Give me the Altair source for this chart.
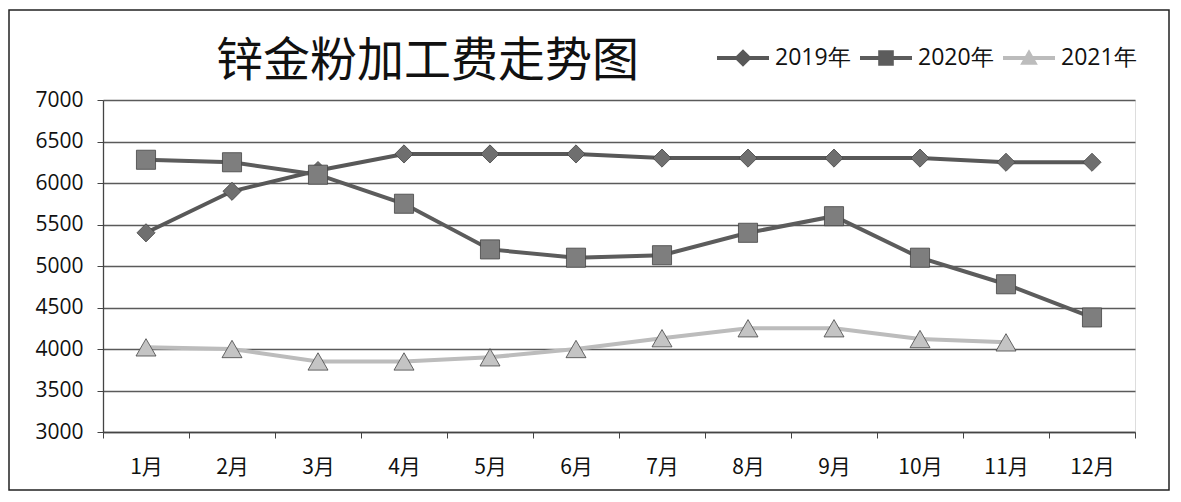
import altair as alt
import pandas as pd

months = ["1月", "2月", "3月", "4月", "5月", "6月", "7月", "8月", "9月", "10月", "11月", "12月"]
series_names = ["2019年", "2020年", "2021年"]
v2019 = [5400, 5900, 6150, 6350, 6350, 6350, 6300, 6300, 6300, 6300, 6250, 6250]
v2020 = [6280, 6250, 6100, 5750, 5200, 5100, 5130, 5400, 5600, 5100, 4780, 4380]
v2021 = [4020, 4000, 3850, 3850, 3900, 4000, 4130, 4250, 4250, 4120, 4080]
y_ticks = [3000, 3500, 4000, 4500, 5000, 5500, 6000, 6500, 7000]
title_text = ["锌金粉加工费走势图"]

line_colors = ["#585858", "#5c5c5c", "#bcbcbc"]
marker_fill = ["#6f6f6f", "#7e7e7e", "#c4c4c4"]
shapes = ["diamond", "square", "triangle-up"]
marker_sizes = [330, 400, 380]
legend_paths = [
    "M-1,-0.08H1V0.08H-1Z M0,-0.34L0.34,0L0,0.34L-0.34,0Z",
    "M-1,-0.08H1V0.08H-1Z M-0.3,-0.3H0.3V0.3H-0.3Z",
    "M-1,-0.08H1V0.08H-1Z M0,-0.34L0.34,0.26H-0.34Z",
]

rows = []
for name, vals in zip(series_names, [v2019, v2020, v2021]):
    for m, v in zip(months, vals):
        rows.append({"month": m, "value": v, "series": name})
df = pd.DataFrame(rows)

W, H = 1032, 332

x_enc = alt.X("month:N", sort=months, bandPosition=0.5,
              scale=alt.Scale(type="band", paddingInner=0, paddingOuter=0, domain=months),
              axis=alt.Axis(title=None, tickBand="extent", labelAngle=0, labelFont="Noto Sans CJK SC",
                            labelFontSize=21, labelColor="#111", labelPadding=18, tickSize=6,
                            tickColor="#444", domainColor="#444", domainWidth=1.3, grid=False))
y_enc = alt.Y("value:Q", scale=alt.Scale(domain=[3000, 7000], nice=False, zero=False),
              axis=alt.Axis(title=None, values=y_ticks, format="d", labelFont="Open Sans",
                            labelFontSize=21, labelColor="#111", labelPadding=14, tickSize=6,
                            tickColor="#444", domainColor="#444", domainWidth=1.3,
                            gridColor="#5a5a5a", gridWidth=1.3))
color_scale = alt.Scale(domain=series_names, range=line_colors)
fill_scale = alt.Scale(domain=series_names, range=marker_fill)

lines = alt.Chart(df).mark_line(strokeWidth=4).encode(
    x=x_enc, y=y_enc,
    color=alt.Color("series:N", scale=color_scale, legend=None),
)
points = alt.Chart(df).mark_point(filled=True, opacity=1, stroke="#444", strokeWidth=0.8).encode(
    x=x_enc, y=y_enc,
    fill=alt.Fill("series:N", scale=fill_scale, legend=None),
    shape=alt.Shape("series:N", scale=alt.Scale(domain=series_names, range=shapes), legend=None),
    size=alt.Size("series:N", scale=alt.Scale(domain=series_names, range=marker_sizes), legend=None),
)
main = alt.layer(lines, points)

legend_layer = alt.Chart(df).transform_filter("datum.value < 0").mark_point(filled=True, opacity=1).encode(
    x=x_enc, y=y_enc,
    color=alt.Color("series:N", scale=alt.Scale(domain=series_names, range=line_colors),
                    legend=alt.Legend(title=None, orient="none", legendX=614, legendY=-68,
                                      direction="horizontal", symbolSize=2704, symbolOpacity=1,
                                      symbolStrokeWidth=0, labelFontSize=23,
                                      labelFont="Open Sans", labelColor="#111", labelOffset=6,
                                      columnPadding=9)),
    shape=alt.Shape("series:N", scale=alt.Scale(domain=series_names, range=legend_paths)),
)

title = alt.Chart(pd.DataFrame({"t": title_text})).mark_text(
    align="left", baseline="middle", fontSize=47, font="Noto Sans CJK SC", color="#111"
).encode(text="t:N", x=alt.value(113), y=alt.value(-38))

border = alt.Chart(pd.DataFrame({"a": [0]})).mark_rect(filled=False, stroke="#222", strokeWidth=1.5).encode(
    x=alt.value(-94), x2=alt.value(1066), y=alt.value(-90), y2=alt.value(390)
)

chart = alt.layer(main, legend_layer, title, border).resolve_scale(
    color="independent", shape="independent", size="independent", fill="independent"
).properties(
    width=W, height=H,
    padding={"left": 95, "top": 92, "right": 36, "bottom": 62},
    autosize=alt.AutoSizeParams(type="none"),
).configure_view(stroke=None).configure(background="white")

chart.save("out.html", embed_options={"renderer": "svg", "actions": False})
